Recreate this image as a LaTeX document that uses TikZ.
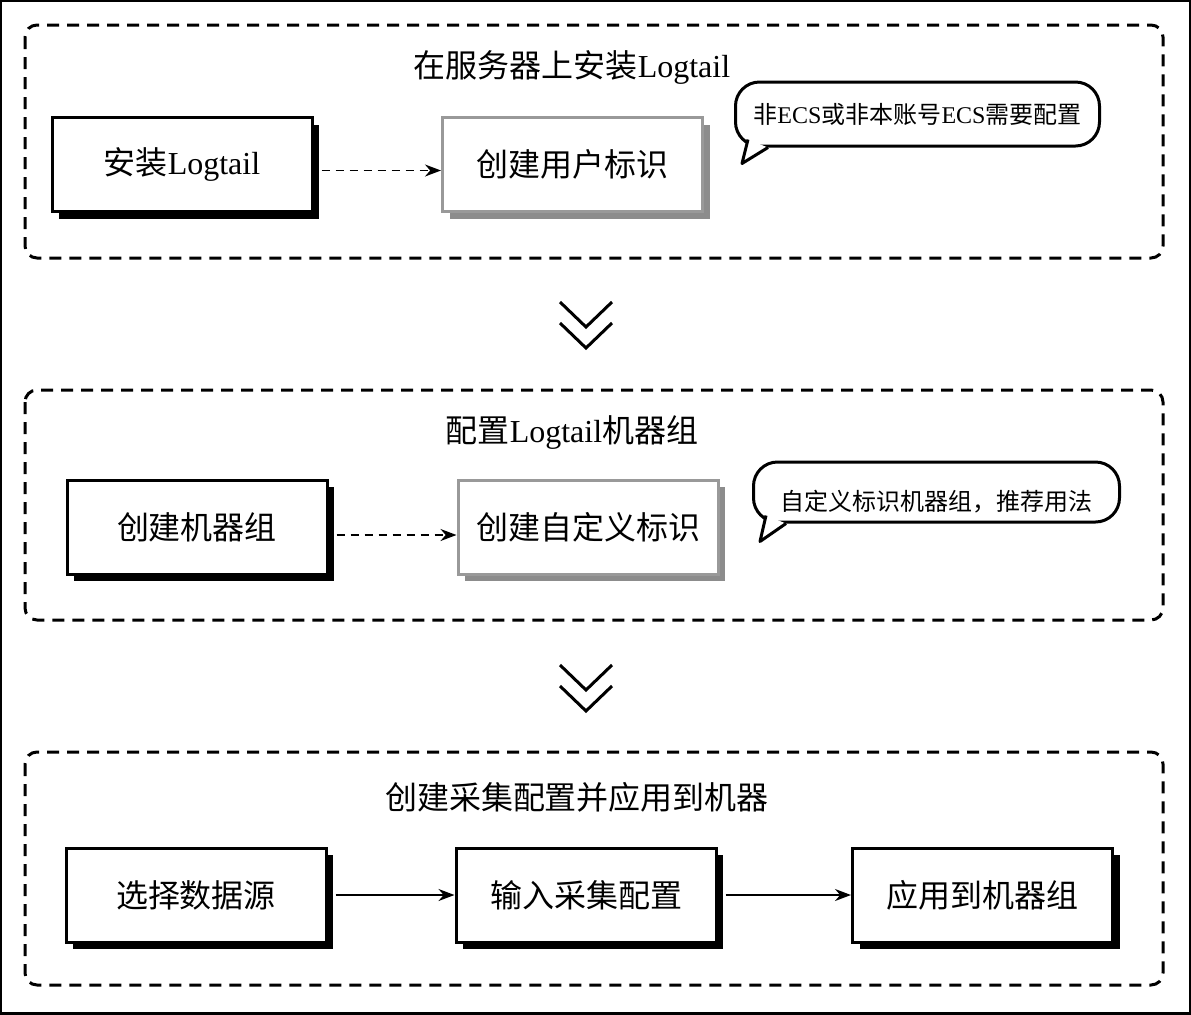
\documentclass[tikz,border=0pt]{standalone}
\usepackage{fontspec}
\setmainfont{Liberation Serif}
\newfontfamily\cjk{Noto Sans CJK SC}
\usetikzlibrary{arrows.meta, shadows}

\tikzset{
  plainbox/.style={draw, line width=1.5pt, fill=white, minimum width=130pt,
    minimum height=47pt, font=\fontsize{16pt}{19pt}\selectfont},
  stepbox/.style={plainbox,
    drop shadow={shadow xshift=3.5pt, shadow yshift=-3.5pt, fill=black, opacity=1}},
  greybox/.style={plainbox, draw=black!40,
    drop shadow={shadow xshift=3.5pt, shadow yshift=-3.5pt, fill=black!45, opacity=1}},
  groupbox/.style={line width=1.5pt, dash pattern=on 6pt off 4pt, rounded corners=6pt},
  grouptitle/.style={font=\fontsize{16pt}{19pt}\selectfont},
  hint/.style={draw, line width=1.5pt, fill=white, rounded corners=12pt,
    font=\fontsize{12pt}{14pt}\selectfont},
  flow/.style={->, line width=0.75pt},
  flowdash/.style={flow, dash pattern=on 4pt off 3pt},
  chevron/.style={line width=1.5pt}
}

\begin{document}
\begin{tikzpicture}[x=0.5pt, y=-0.5pt, >={Stealth[length=8pt, width=6pt]}]
  \useasboundingbox (0,0) rectangle (1191,1014);
  \draw[line width=2pt] (0,0) rectangle (1191,1014);

  % stage frames
  \draw[groupbox] (25,25) rectangle (1163,258);
  \draw[groupbox] (25,390) rectangle (1163,620);
  \draw[groupbox] (25,752) rectangle (1163,985);

  % stage 1
  \node[grouptitle] (install) at (572,67) {{\cjk 在服务器上安装}Logtail};
  \node[stepbox] (setup) at (182,164.5) {{\cjk 安装}Logtail};
  \node[greybox] (userid) at (572.5,164.5) {\cjk 创建用户标识};
  \draw[flowdash] ([xshift=4pt, yshift=-3pt]setup.east) -- ([yshift=-3pt]userid.west);
  \node[hint, minimum width=182pt, minimum height=32pt] (hint1) at (917.5,114)
    {{\cjk 非}ECS{\cjk 或非本账号}ECS{\cjk 需要配置}};
  \fill[white] ([shift={(14,-8)}]hint1.south west) -- ([shift={(8,16)}]hint1.south west)
    -- ([shift={(34,0)}]hint1.south west) -- cycle;
  \draw[line width=1.5pt, line join=round] ([shift={(14,-8)}]hint1.south west)
    -- ([shift={(8,16)}]hint1.south west) -- ([shift={(34,0)}]hint1.south west);

  % stage 2
  \node[grouptitle] (group) at (572,433) {{\cjk 配置}Logtail{\cjk 机器组}};
  \node[stepbox] (newgroup) at (197,527) {\cjk 创建机器组};
  \node[greybox] (customid) at (588,527) {\cjk 创建自定义标识};
  \draw[flowdash] ([xshift=4pt, yshift=-4pt]newgroup.east) -- ([yshift=-4pt]customid.west);
  \node[hint, minimum width=183pt, minimum height=30pt, text height=18pt, text depth=0pt]
    (hint2) at (936.5,492) {\cjk 自定义标识机器组，推荐用法};
  \fill[white] ([shift={(14,-8)}]hint2.south west) -- ([shift={(8,18)}]hint2.south west)
    -- ([shift={(34,0)}]hint2.south west) -- cycle;
  \draw[line width=1.5pt, line join=round] ([shift={(14,-8)}]hint2.south west)
    -- ([shift={(8,18)}]hint2.south west) -- ([shift={(34,0)}]hint2.south west);

  % stage 3
  \node[grouptitle] (collect) at (577,797) {\cjk 创建采集配置并应用到机器};
  \node[stepbox] (source) at (196,895) {\cjk 选择数据源};
  \node[stepbox] (config) at (586,895) {\cjk 输入采集配置};
  \node[stepbox] (apply) at (982.5,895) {\cjk 应用到机器组};
  \draw[flow] ([xshift=4pt]source.east) -- (config.west);
  \draw[flow] ([xshift=4pt]config.east) -- (apply.west);

  % chevrons between stages
  \foreach \y in {302,665}
    \draw[chevron] (560,\y) -- (586,\y+25) -- (612,\y)
      (560,\y+21) -- (586,\y+46) -- (612,\y+21);
\end{tikzpicture}
\end{document}
